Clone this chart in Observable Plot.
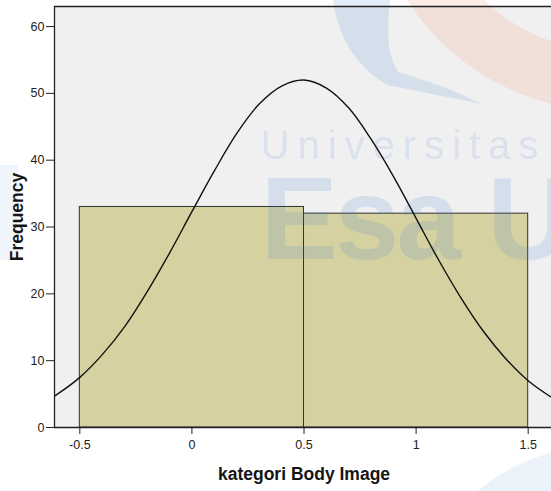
<!DOCTYPE html>
<html>
<head>
<meta charset="utf-8">
<script src="https://cdn.jsdelivr.net/npm/d3@7"></script>
<script src="https://cdn.jsdelivr.net/npm/@observablehq/plot@0.6"></script>
<style>
  html, body { margin: 0; padding: 0; background: #ffffff; }
  #chart svg { display: block; font-family: "Liberation Sans", Arial, sans-serif; }
</style>
</head>
<body>
<div id="chart"></div>
<script>
// Histogram bins (kategori Body Image)
const binStart = [-0.5, 0.5];
const binEnd = [0.5, 1.5];
const frequency = [33, 32];

// Normal curve values
const curveX = [-0.62, -0.6, -0.5, -0.4, -0.3, -0.2, -0.1, 0, 0.1, 0.2, 0.3, 0.4, 0.5, 0.6, 0.7, 0.8, 0.9, 1.0, 1.1, 1.2, 1.3, 1.4, 1.5, 1.6, 1.62];
const curveY = [4.6, 5.0, 7.5, 10.9, 15.1, 20.3, 26.1, 32.3, 38.4, 44.0, 48.4, 51.1, 52.0, 50.8, 47.8, 43.1, 37.5, 31.3, 25.1, 19.4, 14.4, 10.3, 7.0, 4.6, 4.2];

const yTicks = [0, 10, 20, 30, 40, 50, 60];
const xTicks = [-0.5, 0, 0.5, 1, 1.5];

// Background watermark text
const watermark1 = ["Universitas"];
const watermark2 = ["Esa U"];

const bars = binStart.map((d, i) => ({x1: d, x2: binEnd[i], y: frequency[i]}));
const curve = curveX.map((d, i) => ({x: d, y: curveY[i]}));

const wm = "#3f7fd0";

const chart = Plot.plot({
  width: 551,
  height: 491,
  marginLeft: 54,
  marginRight: 0,
  marginTop: 6,
  marginBottom: 64,
  style: {fontFamily: "Liberation Sans, Arial, sans-serif", fontSize: "12.5px", color: "#222", background: "#ffffff"},
  x: {domain: [-0.613, 1.604], ticks: xTicks, tickFormat: d => String(d), label: null, tickSize: 7, tickPadding: 6},
  y: {domain: [0, 63], ticks: yTicks, tickFormat: d => String(d), label: null, tickSize: 8, tickPadding: 2},
  marks: [
    Plot.frame({fill: "#f0f0f0", stroke: null}),
    Plot.rectY(bars, {x1: "x1", x2: "x2", y: "y", fill: "#d5d1a1", stroke: "#333", strokeWidth: 1}),
    Plot.text(watermark1, {frameAnchor: "top-left", dx: 206, dy: 152, text: d => d, textAnchor: "start", lineAnchor: "bottom", fontSize: 40, fill: wm, fillOpacity: 0.13}),
    Plot.text(watermark2, {frameAnchor: "top-left", dx: 206, dy: 252, text: d => d, textAnchor: "start", lineAnchor: "bottom", fontSize: 116, fontWeight: "bold", fill: wm, fillOpacity: 0.15}),
    Plot.line(curve, {x: "x", y: "y", curve: "catmull-rom", stroke: "#111", strokeWidth: 1.4, clip: true}),
    Plot.ruleY([0], {stroke: "#222", strokeWidth: 1.3}),
    Plot.ruleX([-0.613], {stroke: "#222", strokeWidth: 1.3}),
    Plot.ruleY([63], {stroke: "#222", strokeWidth: 1.3}),
    Plot.text(["Frequency"], {frameAnchor: "left", dx: -37.5, text: d => d, rotate: -90, textAnchor: "middle", lineAnchor: "middle", fontSize: 17.5, fontWeight: "bold", fill: "#151515"}),
    Plot.text(["kategori Body Image"], {frameAnchor: "bottom", dy: 46.5, dx: 1, text: d => d, textAnchor: "middle", lineAnchor: "middle", fontSize: 17.5, fontWeight: "bold", fill: "#151515"})
  ]
});

const svg = d3.select(chart);
// letter spacing of the watermark words
svg.selectAll("text").filter(function() { return this.textContent === watermark1[0]; }).attr("letter-spacing", 8);
svg.selectAll("text").filter(function() { return this.textContent === watermark2[0]; }).attr("letter-spacing", -3);

// Decorative logo shapes of the watermark (drawn faintly, behind the curve)
const deco = svg.insert("g", "g[aria-label='line']").attr("aria-label", "watermark-shapes").attr("pointer-events", "none");
const ring = d3.arc().innerRadius(181).outerRadius(241).startAngle(Math.PI).endAngle(1.5 * Math.PI);
deco.append("path").attr("d", ring()).attr("transform", "translate(610,-130)").attr("fill", "#f08050").attr("fill-opacity", 0.14);
deco.append("path")
  .attr("d", "M333,0 C338,40 360,70 388,85 C420,92 455,98 481,104 C455,90 425,80 398,72 C385,50 388,25 390,0 Z")
  .attr("fill", wm).attr("fill-opacity", 0.15);
deco.append("circle").attr("cx", 605).attr("cy", 645).attr("r", 200).attr("fill", wm).attr("fill-opacity", 0.1);
deco.append("rect").attr("x", 0).attr("y", 165).attr("width", 18).attr("height", 95).attr("fill", wm).attr("fill-opacity", 0.08);

document.getElementById("chart").appendChild(chart);
</script>
</body>
</html>
